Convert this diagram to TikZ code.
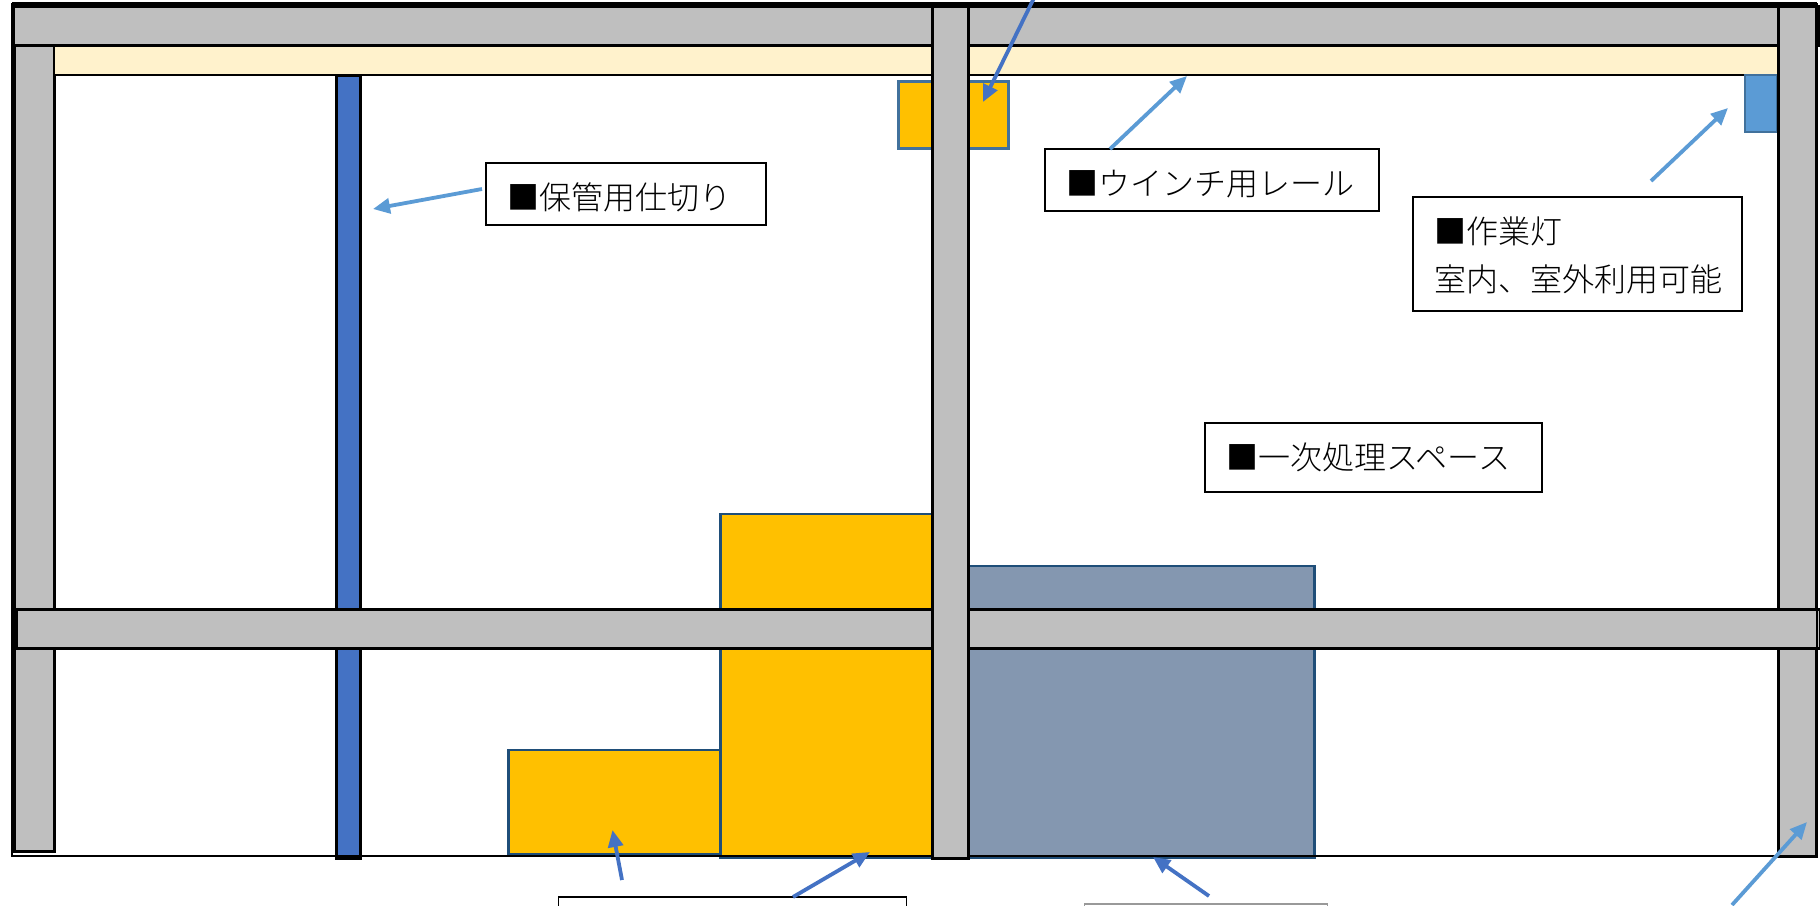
\documentclass[tikz,border=0pt]{standalone}
\usepackage{fontspec}
\setmainfont{Noto Sans CJK JP Light}
\usetikzlibrary{arrows.meta}
\definecolor{wallgrey}{HTML}{BFBFBF}
\definecolor{cream}{HTML}{FFF2CC}
\definecolor{amber}{HTML}{FFC000}
\definecolor{slateb}{HTML}{8497B0}
\definecolor{navyl}{HTML}{1F4E79}
\definecolor{steel}{HTML}{41719C}
\definecolor{sky}{HTML}{5B9BD5}
\definecolor{royal}{HTML}{4472C4}
\tikzset{
  x=1pt,y=-1pt,
  blk/.style={rectangle,anchor=north west,inner sep=0pt,outer sep=0pt},
  wall/.style={blk,draw=black,line width=3pt,fill=wallgrey},
  lbl/.style={blk,draw=black,line width=1.5pt,fill=white,font=\fontsize{32}{48}\selectfont,align=left,inner xsep=21pt},
  arrowsky/.style={draw=sky,line width=3.8pt,-{Triangle[length=17pt,width=15pt]}},
  arrowroyal/.style={draw=royal,line width=3.8pt,-{Triangle[length=17pt,width=15pt]}},
}
\begin{document}
\begin{tikzpicture}
\useasboundingbox (0,0) rectangle (1820,905);
\clip (0,0) rectangle (1820,905);
\fill[white] (0,0) rectangle (1820,905);
% storage and equipment
\node[blk,draw=steel,line width=2.6pt,fill=amber,minimum width=110pt,minimum height=67pt] (winch) at (898.5,81.5) {};
\node[blk,draw=navyl,line width=2.6pt,fill=amber,minimum width=212pt,minimum height=344pt] (binbig) at (720.5,514) {};
\node[blk,draw=navyl,line width=2.6pt,fill=amber,minimum width=212pt,minimum height=104pt] (binsmall) at (508.5,750) {};
\node[blk,draw=navyl,line width=2.6pt,fill=slateb,minimum width=346.5pt,minimum height=292pt] (tank) at (968,566) {};
\node[blk,draw=black,line width=3pt,fill=royal,minimum width=24pt,minimum height=783pt] (partition) at (336,75) {};
% walls
\node[wall,minimum width=40pt,minimum height=806pt] (leftcol) at (14,45) {};
\node[blk,draw=black,line width=2.8pt,fill=cream,minimum width=1726pt,minimum height=30pt] (rail) at (54,45) {};
\node[blk,draw=steel,line width=2.6pt,fill=sky,minimum width=32pt,minimum height=57pt] (lamp) at (1745,75) {};
\node[wall,minimum width=1806pt,minimum height=39pt] (topbeam) at (13,6) {};
\node[wall,minimum width=38pt,minimum height=850pt] (rightcol) at (1778,6) {};
\node[wall,minimum width=1804pt,minimum height=39pt] (midbeam) at (16,609) {};
% outer frame
\node[blk,draw=black,line width=2.8pt,minimum width=1805pt,minimum height=852pt] (frame) at (12,4) {};
\draw[black,line width=4pt] (frame.north west) -- (frame.north east);
\node[wall,minimum width=36pt,minimum height=852pt] (centercol) at (932,6) {};
% labels
\node[lbl,text width=238pt,minimum height=62pt,text height=36pt,text depth=6pt] (lblpart) at (486,163) {■保管用仕切り};
\node[lbl,text width=292pt,minimum height=62pt,text height=36pt,text depth=6pt] (lblwinch) at (1045,149) {■ウインチ用レール};
\node[lbl,text width=287pt,minimum height=114pt] (lbllamp) at (1413,197) {\rule{0pt}{30pt}■作業灯\\室内、室外利用可能};
\node[lbl,text width=295pt,minimum height=69pt,text height=30pt,text depth=6pt] (lblspace) at (1205,423) {■一次処理スペース};
\node[lbl,minimum width=348pt,minimum height=60pt] (lblbin) at (558.5,897) {};
\node[blk,draw=black!40,line width=1.5pt,fill=white,minimum width=243pt,minimum height=60pt] (lbltank) at (1084.5,904) {};
% connector ends
\coordinate (topS) at (1034,-2);
\coordinate (topE) at (983,102);
\coordinate (partS) at (482,189);
\coordinate (partE) at (373,209);
\coordinate (winS) at (1110,149);
\coordinate (winE) at (1187,76);
\coordinate (lampS) at (1651,181);
\coordinate (lampE) at (1728,108);
\coordinate (brS) at (1732,905);
\coordinate (brE) at (1807,822);
\coordinate (bin1S) at (622,880);
\coordinate (bin1E) at (612.5,830);
\coordinate (bin2S) at (793,897);
\coordinate (bin2E) at (870,852);
\coordinate (tankS) at (1209,896);
\coordinate (tankE) at (1153,857);
% connectors
\draw[arrowroyal] (topS) -- (topE);
\draw[arrowsky] (partS) -- (partE);
\draw[arrowsky] (winS) -- (winE);
\draw[arrowsky] (lampS) -- (lampE);
\draw[arrowsky] (brS) -- (brE);
\draw[arrowroyal] (bin1S) -- (bin1E);
\draw[arrowroyal] (bin2S) -- (bin2E);
\draw[arrowroyal] (tankS) -- (tankE);
\end{tikzpicture}
\end{document}
